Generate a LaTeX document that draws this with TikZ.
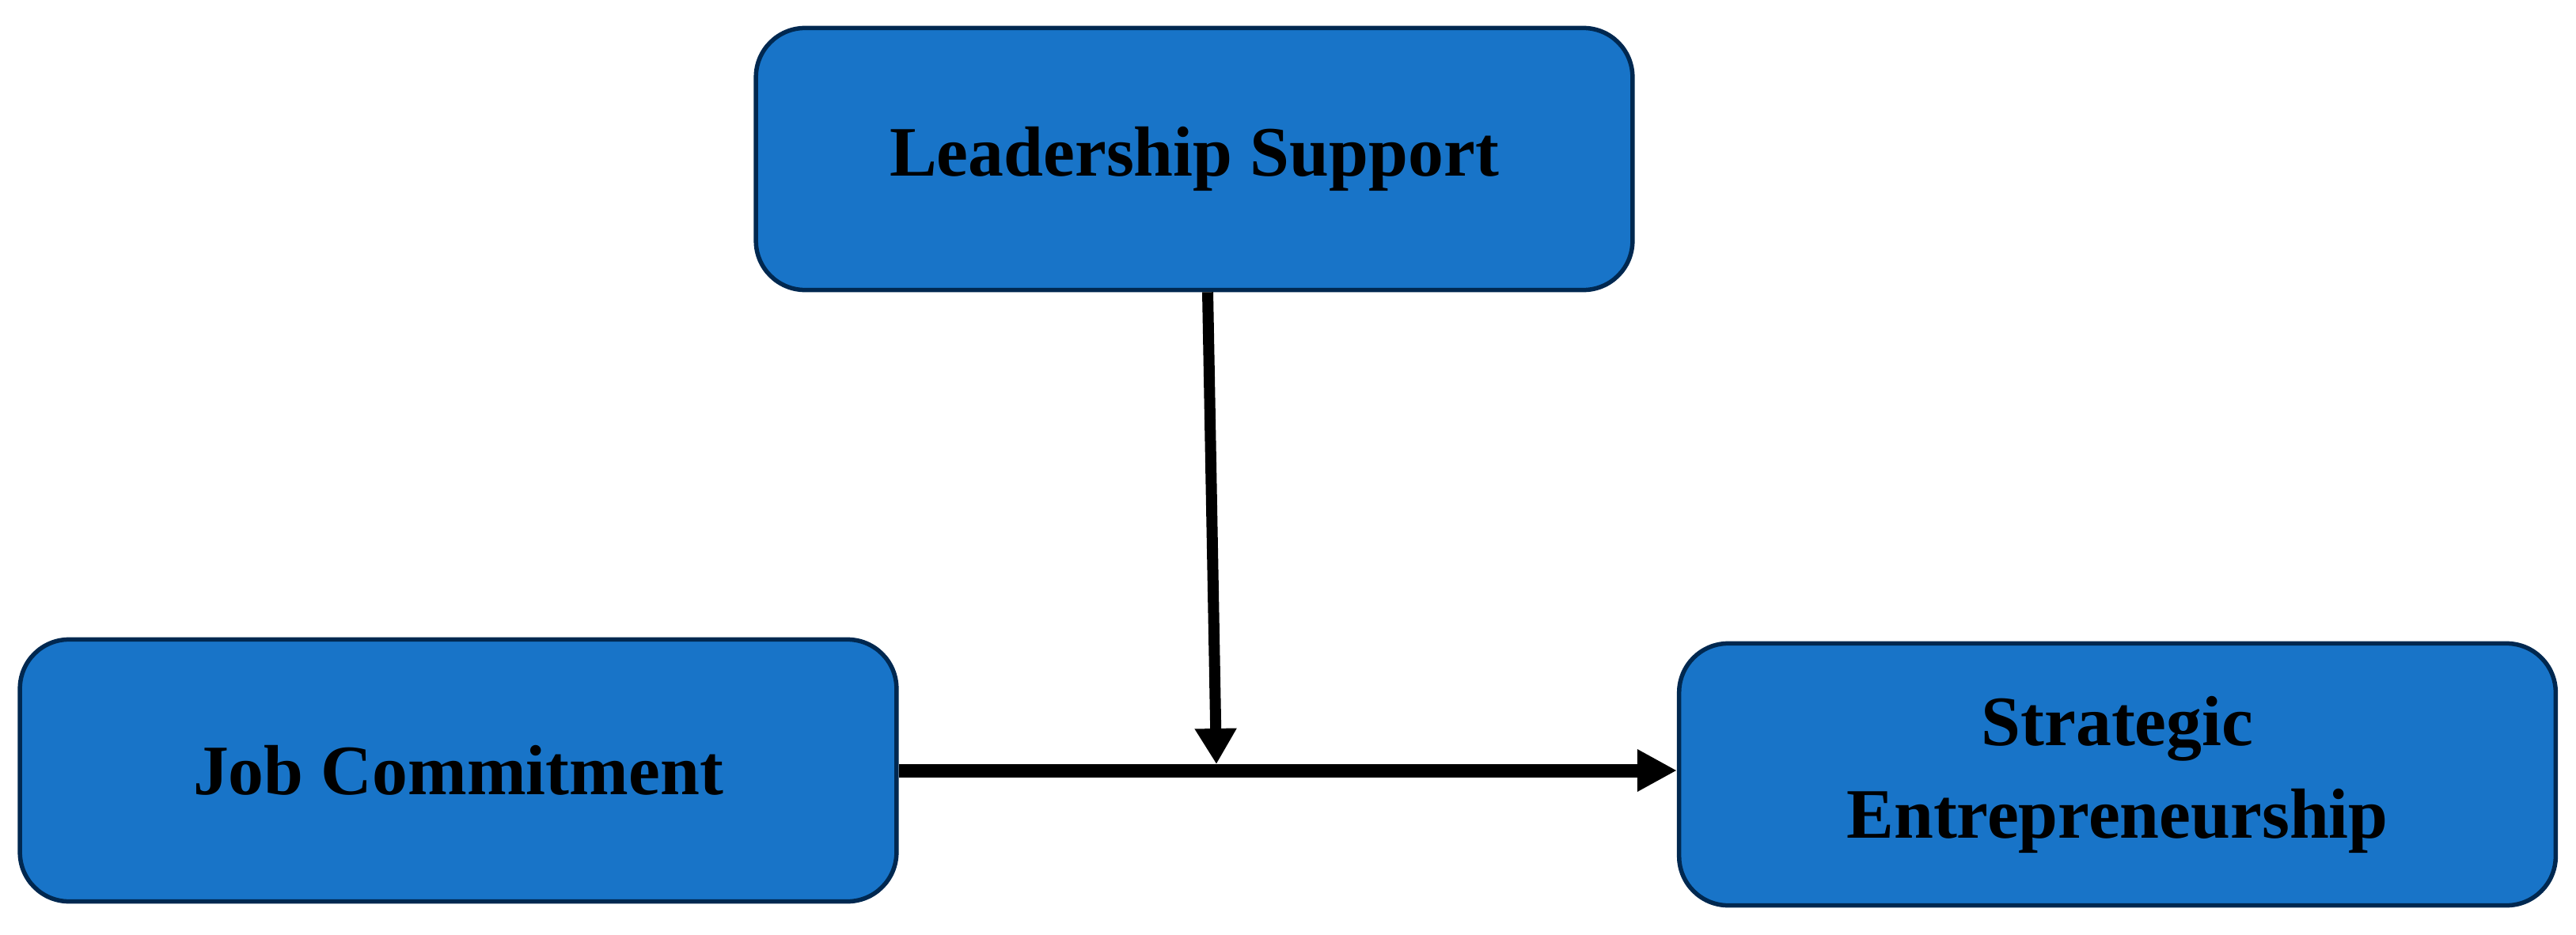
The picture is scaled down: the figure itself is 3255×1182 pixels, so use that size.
\documentclass[tikz,border=0pt]{standalone}
\usepackage{fontspec}
\setmainfont{Liberation Serif}
\usetikzlibrary{arrows.meta,calc}
\definecolor{boxfill}{RGB}{24,116,200}
\definecolor{boxline}{RGB}{0,40,80}
\begin{document}
\begin{tikzpicture}[x=0.01cm,y=-0.01cm,
  varbox/.style={rectangle, rounded corners=0.62cm, draw=boxline, fill=boxfill,
    line width=0.055cm, minimum width=11.07cm, minimum height=3.31cm,
    align=center, inner sep=0pt,
    font=\fontsize{25.5pt}{33.3pt}\selectfont\bfseries},
  thinarrow/.style={line width=0.14cm, -{Triangle[length=0.45cm,width=0.5cm]}},
  thickarrow/.style={line width=0.17cm, -{Triangle[length=0.5cm,width=0.5cm]}}]
\useasboundingbox (0,0) rectangle (3255,1182);
\node[varbox] (LS) at (1509,201) {Leadership Support};
\node[varbox] (JC) at (579,974) {Job Commitment};
\node[varbox] (SE) at (2675.5,979) {Strategic\\Entrepreneurship};
\coordinate (m) at (1537,966);
\draw[thickarrow] (JC.east) -- (JC.east -| SE.west);
\draw[thinarrow] ([xshift=0.17cm]LS.south) -- (m);
\end{tikzpicture}
\end{document}
